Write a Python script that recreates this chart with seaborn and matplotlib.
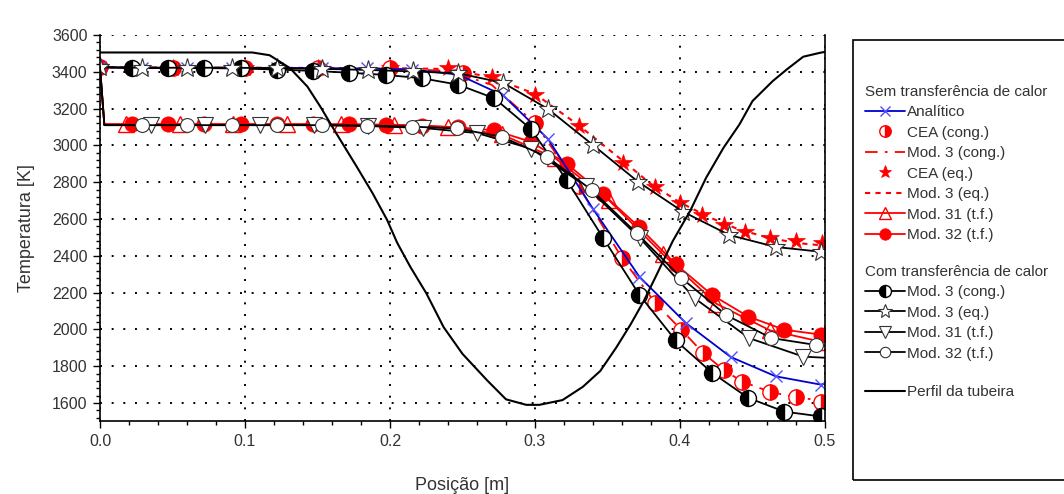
import matplotlib
matplotlib.use("Agg")
import matplotlib.pyplot as plt
import seaborn as sns
from matplotlib.ticker import MultipleLocator
from matplotlib.patches import Rectangle

# ---------------- data ----------------
# Nozzle profile (drawn on the temperature scale)
x_noz = [0.0, 0.105, 0.117, 0.131, 0.143, 0.152, 0.163, 0.177, 0.188, 0.198, 0.205, 0.214,
         0.225, 0.237, 0.250, 0.267, 0.280, 0.294, 0.303, 0.319, 0.333, 0.345, 0.356, 0.366,
         0.375, 0.384, 0.395, 0.407, 0.418, 0.430, 0.441, 0.450, 0.464, 0.474, 0.485, 0.497, 0.5]
T_noz = [3505, 3505, 3490, 3420, 3320, 3210, 3065, 2885, 2740, 2595, 2470, 2340,
         2197, 2012, 1867, 1723, 1620, 1590, 1590, 1616, 1688, 1774, 1901, 2028,
         2154, 2299, 2480, 2644, 2824, 2987, 3114, 3241, 3350, 3415, 3482, 3504, 3508]

# Sem transferencia de calor
x_an = [0.0, 0.029, 0.060, 0.091, 0.122, 0.153, 0.184, 0.215, 0.247, 0.278, 0.309, 0.340,
        0.372, 0.404, 0.435, 0.466, 0.497, 0.5]
T_an = [3425, 3422, 3422, 3422, 3421, 3420, 3418, 3412, 3385, 3272, 3035, 2655,
        2286, 2035, 1850, 1745, 1700, 1705]

x_cea_c = [0.0, 0.05, 0.1, 0.15, 0.2, 0.25, 0.3, 0.33, 0.36, 0.383, 0.401, 0.416, 0.43,
           0.443, 0.462, 0.48, 0.497]
T_cea_c = [3425, 3422, 3422, 3420, 3418, 3395, 3120, 2780, 2388, 2143, 1997, 1872, 1780,
           1716, 1661, 1630, 1607]

x_m3c = [0.0, 0.1, 0.2, 0.24, 0.27, 0.3, 0.33, 0.36, 0.383, 0.401, 0.416, 0.43, 0.443,
         0.462, 0.48, 0.5]
T_m3c = [3425, 3422, 3418, 3405, 3330, 3120, 2780, 2388, 2143, 1997, 1872, 1780, 1716,
         1661, 1630, 1612]

x_cea_e = [0.0, 0.05, 0.1, 0.15, 0.2, 0.24, 0.27, 0.3, 0.33, 0.361, 0.383, 0.4, 0.415,
           0.43, 0.445, 0.462, 0.48, 0.498]
T_cea_e = [3425, 3422, 3422, 3422, 3420, 3418, 3370, 3275, 3105, 2906, 2772, 2687, 2622,
           2567, 2531, 2497, 2480, 2468]

x_m3e = [0.0, 0.1, 0.2, 0.24, 0.27, 0.3, 0.33, 0.36, 0.38, 0.4, 0.42, 0.44, 0.46, 0.48, 0.5]
T_m3e = [3425, 3422, 3420, 3415, 3370, 3280, 3110, 2920, 2790, 2690, 2610, 2545, 2500,
         2470, 2455]

x_m31 = [0.0, 0.003, 0.018, 0.055, 0.092, 0.129, 0.166, 0.203, 0.240, 0.277, 0.314, 0.351,
         0.388, 0.425, 0.462, 0.499]
T_m31 = [3425, 3115, 3115, 3115, 3115, 3115, 3114, 3110, 3100, 3060, 2930, 2702,
         2410, 2140, 1995, 1930]

x_m32 = [0.0, 0.003, 0.022, 0.047, 0.072, 0.097, 0.122, 0.147, 0.172, 0.197, 0.222, 0.247,
         0.272, 0.297, 0.322, 0.347, 0.372, 0.397, 0.422, 0.447, 0.472, 0.497, 0.5]
T_m32 = [3425, 3115, 3115, 3115, 3115, 3115, 3115, 3115, 3115, 3113, 3108, 3098,
         3082, 3020, 2900, 2735, 2555, 2355, 2188, 2070, 1998, 1972, 1970]

# Com transferencia de calor
x_h3c = [0.0, 0.022, 0.047, 0.072, 0.097, 0.122, 0.147, 0.172, 0.197, 0.222, 0.247, 0.272,
         0.297, 0.322, 0.347, 0.372, 0.397, 0.422, 0.447, 0.472, 0.497, 0.5]
T_h3c = [3425, 3420, 3420, 3420, 3418, 3412, 3405, 3395, 3383, 3365, 3330, 3256,
         3090, 2810, 2497, 2188, 1940, 1765, 1628, 1553, 1527, 1525]

x_h3e = [0.0, 0.029, 0.060, 0.091, 0.122, 0.153, 0.185, 0.216, 0.247, 0.278, 0.309, 0.340,
         0.371, 0.402, 0.434, 0.466, 0.497, 0.5]
T_h3e = [3425, 3422, 3422, 3422, 3420, 3416, 3410, 3402, 3392, 3340, 3198, 3002,
         2803, 2640, 2513, 2448, 2422, 2420]

x_h31 = [0.0, 0.003, 0.035, 0.0725, 0.11, 0.1475, 0.185, 0.2225, 0.26, 0.2975, 0.335,
         0.3725, 0.41, 0.4475, 0.485, 0.5]
T_h31 = [3425, 3110, 3110, 3110, 3110, 3110, 3105, 3095, 3067, 2982, 2778,
         2495, 2170, 1953, 1852, 1846]

x_h32 = [0.0, 0.003, 0.029, 0.060, 0.091, 0.122, 0.153, 0.184, 0.215, 0.246, 0.277, 0.308,
         0.339, 0.370, 0.401, 0.432, 0.463, 0.494, 0.5]
T_h32 = [3425, 3110, 3110, 3110, 3110, 3110, 3110, 3108, 3102, 3092, 3047, 2939,
         2758, 2524, 2279, 2077, 1953, 1915, 1912]

labels_sem = ["Analítico", "CEA (cong.)", "Mod. 3 (cong.)", "CEA (eq.)", "Mod. 3 (eq.)",
              "Mod. 31 (t.f.)", "Mod. 32 (t.f.)"]
labels_com = ["Mod. 3 (cong.)", "Mod. 3 (eq.)", "Mod. 31 (t.f.)", "Mod. 32 (t.f.)"]
label_noz = "Perfil da tubeira"
title_sem = "Sem transferência de calor"
title_com = "Com transferência de calor"

x_ticks = [0.0, 0.1, 0.2, 0.3, 0.4, 0.5]
y_ticks = [1600, 1800, 2000, 2200, 2400, 2600, 2800, 3000, 3200, 3400, 3600]

# ---------------- figure ----------------
sns.set_theme(style="white")
plt.rcParams["font.family"] = ["Liberation Sans", "DejaVu Sans"]
TXT = "#333333"
RED = "#ff0000"

fig = plt.figure(figsize=(10.64, 4.94), dpi=100)
ax = fig.add_axes([100 / 1064, 1 - 421.4 / 494, 725 / 1064, 386.4 / 494])


def draw(x, y, **kw):
    sns.lineplot(x=x, y=y, ax=ax, estimator=None, sort=False, legend=False, **kw)
    return ax.lines[-1]


h = {}
# red series (no heat transfer)
h["m3c"] = draw(x_m3c, T_m3c, color=RED, linewidth=1.3, linestyle=(0, (7, 4, 1.5, 4)))
h["m3e"] = draw(x_m3e, T_m3e, color=RED, linewidth=1.5, linestyle=(0, (2.5, 2.5)))
h["cea_e"] = draw(x_cea_e, T_cea_e, color=RED, linestyle="none", marker="*",
                  markersize=13, markerfacecolor=RED, markeredgecolor=RED, markeredgewidth=0.5)
h["cea_c"] = draw(x_cea_c, T_cea_c, color=RED, linestyle="none", marker="o",
                  markersize=11, fillstyle="right", markerfacecolor=RED,
                  markerfacecoloralt="white", markeredgecolor=RED, markeredgewidth=1)
h["m31"] = draw(x_m31, T_m31, color=RED, linewidth=1.3, marker="^", markersize=11,
                markerfacecolor="none", markeredgecolor=RED, markeredgewidth=1,
                markevery=list(range(2, 16)))
h["m32"] = draw(x_m32, T_m32, color=RED, linewidth=1.3, marker="o", markersize=11,
                markerfacecolor=RED, markeredgecolor=RED, markeredgewidth=0.5,
                markevery=list(range(2, 22)))
# analytic
h["an"] = draw(x_an, T_an, color="#0000cc", linewidth=1.3, marker="x", markersize=9,
               markeredgecolor="#5050ff", markeredgewidth=1, markevery=list(range(0, 17)))
# black series (with heat transfer)
h["h3c"] = draw(x_h3c, T_h3c, color="black", linewidth=1.3, marker="o", markersize=11.5,
                fillstyle="left", markerfacecolor="black", markerfacecoloralt="white",
                markeredgecolor="black", markeredgewidth=1, markevery=list(range(1, 21)))
h["h3e"] = draw(x_h3e, T_h3e, color="black", linewidth=1.3, marker="*", markersize=14,
                markerfacecolor="white", markeredgecolor="#333333", markeredgewidth=0.8,
                markevery=list(range(0, 17)))
h["h31"] = draw(x_h31, T_h31, color="black", linewidth=1.3, marker="v", markersize=11,
                markerfacecolor="white", markeredgecolor="#333333", markeredgewidth=0.8,
                markevery=list(range(2, 15)))
h["h32"] = draw(x_h32, T_h32, color="black", linewidth=1.3, marker="o", markersize=10,
                markerfacecolor="white", markeredgecolor="#333333", markeredgewidth=0.8,
                markevery=list(range(2, 18)))
# nozzle profile
h["noz"] = draw(x_noz, T_noz, color="black", linewidth=1.5)

ax.set_xlim(0.0, 0.5)
ax.set_ylim(1500, 3600)
ax.set_xticks(x_ticks)
ax.set_yticks(y_ticks)
ax.set_xticklabels([f"{v:.1f}" for v in x_ticks])
ax.xaxis.set_minor_locator(MultipleLocator(0.02))
ax.yaxis.set_minor_locator(MultipleLocator(40))
ax.grid(True, which="major", color="black", linestyle=(0, (1, 5)), linewidth=1.4)
ax.set_axisbelow(True)
ax.tick_params(which="both", direction="out", bottom=True, left=True, top=False,
               right=False, color="black", width=1)
ax.tick_params(which="major", length=5, labelsize=11.5, labelcolor=TXT, pad=4)
ax.tick_params(which="minor", length=3)
for s in ["left", "bottom", "right"]:
    ax.spines[s].set_visible(True)
    ax.spines[s].set_color("black")
    ax.spines[s].set_linewidth(1.2)
ax.spines["top"].set_visible(False)
ax.set_xlabel("Posição [m]", fontsize=13, color=TXT, labelpad=20)
ax.set_ylabel("Temperatura [K]", fontsize=13, color=TXT, labelpad=12)

# legend box
fig.patches.append(Rectangle((853 / 1064, 14 / 494), 300 / 1064, 440 / 494,
                             transform=fig.transFigure, fill=False,
                             edgecolor="black", linewidth=1.2))

common = dict(loc="upper left", frameon=False, fontsize=11, handlelength=2.6,
              handletextpad=0.15, labelspacing=0.42, borderpad=0, borderaxespad=0,
              numpoints=1, alignment="left", markerscale=0.75)
leg1 = fig.legend([h["an"], h["cea_c"], h["m3c"], h["cea_e"], h["m3e"], h["m31"], h["m32"]],
                  labels_sem, title=title_sem, title_fontsize=11,
                  bbox_to_anchor=(865 / 1064, 1 - 85 / 494), **common)
leg2 = fig.legend([h["h3c"], h["h3e"], h["h31"], h["h32"]], labels_com,
                  title=title_com, title_fontsize=11,
                  bbox_to_anchor=(865 / 1064, 1 - 265 / 494), **common)
leg3 = fig.legend([h["noz"]], [label_noz], bbox_to_anchor=(865 / 1064, 1 - 385 / 494), **common)
for lg in (leg1, leg2, leg3):
    for t in lg.get_texts():
        t.set_color(TXT)
    lg.get_title().set_color(TXT)

fig.savefig("out.png", dpi=100)
